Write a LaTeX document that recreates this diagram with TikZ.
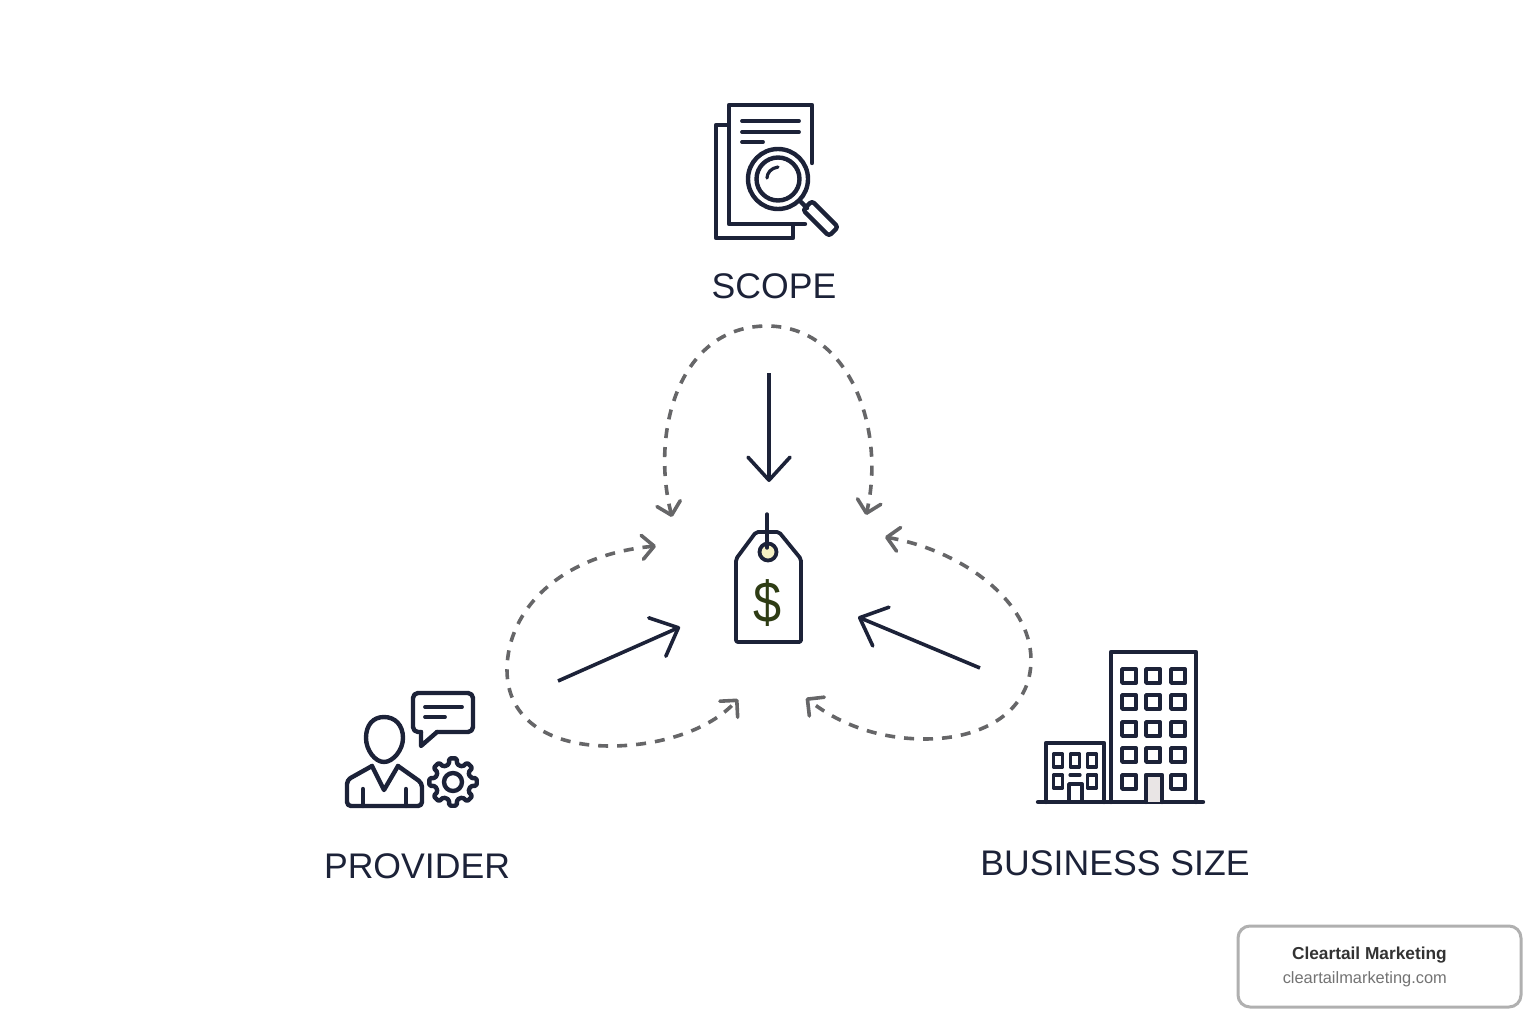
\documentclass[tikz,border=0pt]{standalone}
\usepackage{fontspec}
\setmainfont{Liberation Sans}
\usetikzlibrary{arrows.meta}

\definecolor{inkblue}{HTML}{1C2238}
\definecolor{loopgray}{HTML}{666668}
\definecolor{boxgray}{HTML}{B0B0B0}
\definecolor{holefill}{HTML}{F5F0C4}
\definecolor{dollargreen}{HTML}{2E3C14}
\definecolor{doorfill}{HTML}{E9E5E5}

\tikzset{
  iconline/.style={draw=inkblue, line width=4.4pt, line join=round, line cap=round},
  thinline/.style={draw=inkblue, line width=3.8pt, line join=round, line cap=round},
  caption/.style={text=inkblue, font=\fontsize{35.6}{40}\selectfont, inner sep=0pt},
  mainarrow/.style={draw=inkblue, line width=3.6pt,
    -{Straight Barb[length=23pt,width=42pt,line width=3.6pt,round]}},
  looparrow/.style={draw=loopgray, line width=3.6pt, dash pattern=on 10pt off 9pt,
    {Straight Barb[length=12pt,width=24pt,line width=3.6pt,round]}-{Straight Barb[length=12pt,width=24pt,line width=3.6pt,round]}},
}

\begin{document}
\begin{tikzpicture}[x=1pt,y=-1pt]
  \useasboundingbox (0,0) rectangle (1536,1024);

  % labels
  \node[caption] (scope) at (774,286) {SCOPE};
  \node[caption] (provider) at (417,866) {PROVIDER};
  \node[caption] (businesssize) at (1115,863) {BUSINESS SIZE};

  % ends of the arrows
  \coordinate (scopeFrom) at (769,373);
  \coordinate (scopeTo) at (769,482);
  \coordinate (providerFrom) at (558,681);
  \coordinate (providerTo) at (680,627);
  \coordinate (sizeFrom) at (980,668);
  \coordinate (sizeTo) at (858,617);
  \coordinate (scopeLoopA) at (672,517);
  \coordinate (scopeLoopB) at (866,515);
  \coordinate (providerLoopA) at (656,546);
  \coordinate (providerLoopB) at (738,699);
  \coordinate (sizeLoopA) at (885,537);
  \coordinate (sizeLoopB) at (806,698);

  \draw[mainarrow] (scopeFrom) -- (scopeTo);
  \draw[mainarrow] (providerFrom) -- (providerTo);
  \draw[mainarrow] (sizeFrom) -- (sizeTo);

  \draw[looparrow] (scopeLoopA) .. controls (650,430) and (680,326) .. (767,326)
    .. controls (850,326) and (886,430) .. (scopeLoopB);
  \draw[looparrow] (providerLoopA) .. controls (560,555) and (507,610) .. (507,670)
    .. controls (507,720) and (550,746) .. (610,746)
    .. controls (660,746) and (710,730) .. (providerLoopB);
  \draw[looparrow] (sizeLoopA) .. controls (960,550) and (1031,600) .. (1031,660)
    .. controls (1031,710) and (985,739) .. (925,739)
    .. controls (880,739) and (840,725) .. (sizeLoopB);

  % price tag
  \draw[iconline, line width=3.8pt, rounded corners=2pt] (756,532) -- (779,532) -- (801,559) -- (801,642)
    -- (736,642) -- (736,559) -- cycle;
  \draw[iconline, line width=3.8pt, fill=holefill] (768,552) circle (8.5);
  \draw[thinline, line width=3.4pt] (767,514) -- (767,548);
  \node[text=dollargreen, font=\fontsize{58}{60}\selectfont, inner sep=0pt, xscale=.87] (dollar) at (768,603) {\$};

  % scope icon
  \draw[iconline] (728,125) -- (716,125) -- (716,238) -- (793,238) -- (793,225);
  \draw[iconline] (812,163) -- (812,105) -- (729,105) -- (729,224) -- (805,224);
  \draw[thinline] (742,121) -- (799,121);
  \draw[thinline] (742,132) -- (799,132);
  \draw[thinline] (742,142) -- (763,142);
  \draw[iconline, fill=white] (778,179) circle (30);
  \draw[iconline] (778,179) circle (21.5);
  \draw[thinline, line width=3.2pt] (767,178) .. controls (767,173) and (771,168) .. (778,167);
  \draw[iconline] (801,202) -- (807,208);
  \draw[iconline, rounded corners=3pt] (812,201) -- (838,227) -- (829,236) -- (803,210) -- cycle;

  % provider icon
  \draw[iconline, rounded corners=5pt] (421,732) -- (413,732) -- (413,693) -- (473,693)
    -- (473,732) -- (437,732);
  \draw[iconline] (421,732) -- (421,746) -- (437,732);
  \draw[thinline] (425,707) -- (462,707);
  \draw[thinline] (425,717) -- (445,717);
  \draw[iconline] (384,762) .. controls (375,762) and (366,750) .. (366,738)
    .. controls (366,725) and (373,717) .. (384,717)
    .. controls (395,717) and (403,725) .. (403,738)
    .. controls (403,750) and (393,762) .. (384,762) -- cycle;
  \draw[iconline, rounded corners=4pt] (372,766) -- (347,780) -- (347,806) -- (422,806)
    -- (422,783) -- (398,766);
  \draw[iconline] (372,766) -- (384,790) -- (398,766);
  \draw[iconline] (363,789) -- (363,806);
  \draw[iconline] (406,789) -- (406,806);
  \begin{scope}[shift={(453,782)}]
    \draw[iconline, rounded corners=1.5pt] (-13:18)
      \foreach \a in {0,45,...,315} {
        -- (\a-13:18) -- (\a-9:24) -- (\a+9:24) -- (\a+13:18)
      } -- cycle;
    \draw[iconline] (0,0) circle (9);
  \end{scope}

  % business size icon
  \draw[iconline] (1038,802) -- (1203,802);
  \draw[iconline] (1111,802) -- (1111,652) -- (1196,652) -- (1196,802);
  \foreach \x in {1129,1153,1178} {
    \foreach \y in {676,702,729,755} {
      \draw[thinline] (\x-7,\y-7) rectangle (\x+7,\y+7);
    }
  }
  \draw[thinline] (1122,775) rectangle (1136,789);
  \draw[thinline] (1171,775) rectangle (1185,789);
  \draw[iconline, fill=doorfill] (1146,802) -- (1146,775) -- (1162,775) -- (1162,802);
  \draw[iconline] (1046,802) -- (1046,743) -- (1104,743) -- (1104,802);
  \foreach \x in {1058,1075,1092} {
    \draw[thinline, line width=3.2pt] (\x-4.5,754) rectangle (\x+4.5,767);
  }
  \draw[thinline, line width=3.2pt] (1053.5,775) rectangle (1062.5,788);
  \draw[thinline, line width=3.2pt] (1087.5,775) rectangle (1096.5,788);
  \draw[thinline, line width=3.2pt] (1070,775) -- (1080,775);
  \draw[thinline] (1069,802) -- (1069,784) -- (1082,784) -- (1082,802);

  % badge
  \draw[draw=boxgray, line width=3pt, rounded corners=12pt, fill=white] (1238,926) rectangle (1521,1007);
  \node[anchor=east, inner sep=0pt, text=black!80, font=\fontsize{17.3}{20}\selectfont\bfseries] (badgename) at (1447,955) {Cleartail Marketing};
  \node[anchor=east, inner sep=0pt, text=black!55, font=\fontsize{16.4}{20}\selectfont] (badgeurl) at (1447,979) {cleartailmarketing.com};
\end{tikzpicture}
\end{document}
